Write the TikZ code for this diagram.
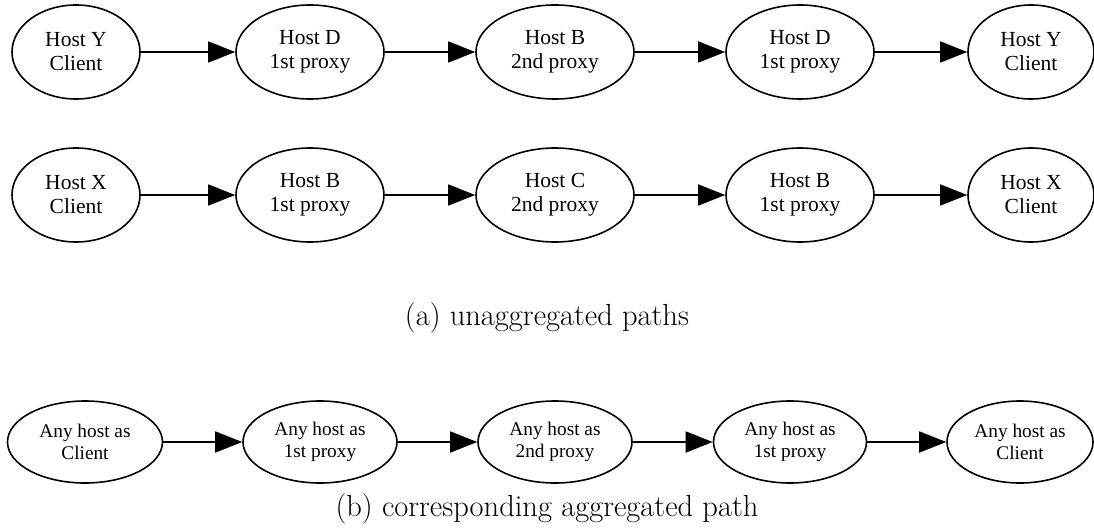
\documentclass[tikz,border=0pt]{standalone}
\usepackage{fontspec}
\newfontfamily\dotfont{Liberation Serif}
\usetikzlibrary{arrows.meta,shapes.geometric}

\begin{document}
\begin{tikzpicture}[
 x=1pt,y=-1pt,
 line width=1.6pt,
 >={Triangle[length=27pt,width=21pt]},
 align=center,
 inner sep=0pt,
 host/.style={draw=black,ellipse,minimum height=94pt,font=\dotfont\fontsize{21.5}{24}\selectfont},
 anyhost/.style={draw=black,ellipse,minimum height=82pt,font=\dotfont\fontsize{19.3}{22}\selectfont},
 caption/.style={font=\fontsize{30.5}{36}\selectfont}
]
\useasboundingbox (0,0) rectangle (1094,529);
\node (y-client) [host,minimum width=128pt] at (76,52) {Host Y\\ Client};
\node (y-first) [host,minimum width=148pt] at (310,52) {Host D\\ 1st proxy};
\node (y-second) [host,minimum width=158pt] at (555,52) {Host B\\ 2nd proxy};
\node (y-first-back) [host,minimum width=148pt] at (800,52) {Host D\\ 1st proxy};
\node (y-client-back) [host,minimum width=126pt] at (1031,52) {Host Y\\ Client};
\draw[->] (y-client) -- (y-first);
\draw[->] (y-first) -- (y-second);
\draw[->] (y-second) -- (y-first-back);
\draw[->] (y-first-back) -- (y-client-back);

\node (x-client) [host,minimum width=128pt] at (76,195) {Host X\\ Client};
\node (x-first) [host,minimum width=148pt] at (310,195) {Host B\\ 1st proxy};
\node (x-second) [host,minimum width=158pt] at (555,195) {Host C\\ 2nd proxy};
\node (x-first-back) [host,minimum width=148pt] at (800,195) {Host B\\ 1st proxy};
\node (x-client-back) [host,minimum width=126pt] at (1031,195) {Host X\\ Client};
\draw[->] (x-client) -- (x-first);
\draw[->] (x-first) -- (x-second);
\draw[->] (x-second) -- (x-first-back);
\draw[->] (x-first-back) -- (x-client-back);

\node (caption-a) [caption] at (547,318) {(a) unaggregated paths};

\node (any-client) [anyhost,minimum width=155pt] at (85,442) {Any host as\\ Client};
\node (any-first) [anyhost,minimum width=154pt] at (320,442) {Any host as\\ 1st proxy};
\node (any-second) [anyhost,minimum width=154pt] at (555,442) {Any host as\\ 2nd proxy};
\node (any-first-back) [anyhost,minimum width=153pt] at (790,442) {Any host as\\ 1st proxy};
\node (any-client-back) [anyhost,minimum width=146pt] at (1020,442) {Any host as\\ Client};
\draw[->] (any-client) -- (any-first);
\draw[->] (any-first) -- (any-second);
\draw[->] (any-second) -- (any-first-back);
\draw[->] (any-first-back) -- (any-client-back);

\node (caption-b) [caption] at (547,509) {(b) corresponding aggregated path};
\end{tikzpicture}
\end{document}
